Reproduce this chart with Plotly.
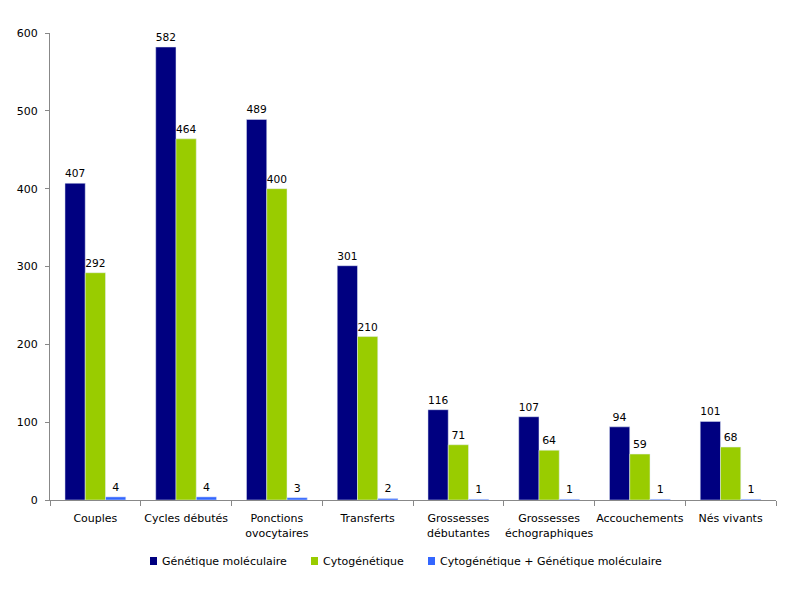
import plotly.graph_objects as go

categories = ["Couples", "Cycles débutés", "Ponctions<br>ovocytaires", "Transferts",
              "Grossesses<br>débutantes", "Grossesses<br>échographiques",
              "Accouchements", "Nés vivants"]
genetique_mol = [407, 582, 489, 301, 116, 107, 94, 101]
cytogenetique = [292, 464, 400, 210, 71, 64, 59, 68]
cyto_plus_mol = [4, 4, 3, 2, 1, 1, 1, 1]

series = [
    ("Génétique moléculaire", genetique_mol, "#000080"),
    ("Cytogénétique", cytogenetique, "#99CC00"),
    ("Cytogénétique + Génétique moléculaire", cyto_plus_mol, "#3366FF"),
]

font = dict(family="DejaVu Sans", size=11, color="black")

# page body has an 8px margin, so margins are shifted to compensate
L, R, T, B = 42, 32, 25, 108
W, H = 800, 600
pw, ph = W - L - R, H - T - B

fig = go.Figure()
for name, vals, col in series:
    fig.add_trace(go.Bar(
        x=categories, y=vals, name=name, marker_color=col,
        text=vals, textposition="outside", cliponaxis=False,
        textfont=font, showlegend=False,
    ))

# hand-made legend (small squares close to their labels)
legend_x = [142, 303, 420]
legend_y = 553
for (name, vals, col), px in zip(series, legend_x):
    fig.add_shape(type="rect", xref="paper", yref="paper",
                  x0=(px - L) / pw, x1=(px + 7 - L) / pw,
                  y0=(H - B - legend_y - 4) / ph, y1=(H - B - legend_y + 4) / ph,
                  fillcolor=col, line_width=0)
    fig.add_annotation(text=name, xref="paper", yref="paper",
                       x=(px + 10 - L) / pw, y=(H - B - legend_y) / ph,
                       xanchor="left", yanchor="middle", showarrow=False, font=font)

fig.update_layout(
    width=W, height=H,
    margin=dict(l=L, r=R, t=T, b=B, autoexpand=False),
    barmode="group", bargap=0.33, bargroupgap=0,
    plot_bgcolor="white", paper_bgcolor="white",
    font=font, showlegend=False,
    xaxis=dict(showline=True, linecolor="#888888", linewidth=1,
               ticks="outside", tickson="boundaries", ticklen=5, tickcolor="#888888",
               showgrid=False, tickangle=0, automargin=False, ticklabelstandoff=8),
    yaxis=dict(range=[0, 600], dtick=100, showline=True, linecolor="#888888",
               linewidth=1, ticks="outside", ticklen=4, tickcolor="#888888",
               showgrid=False, zeroline=False, automargin=False, ticklabelstandoff=5),
)

fig.write_html("out.html")
